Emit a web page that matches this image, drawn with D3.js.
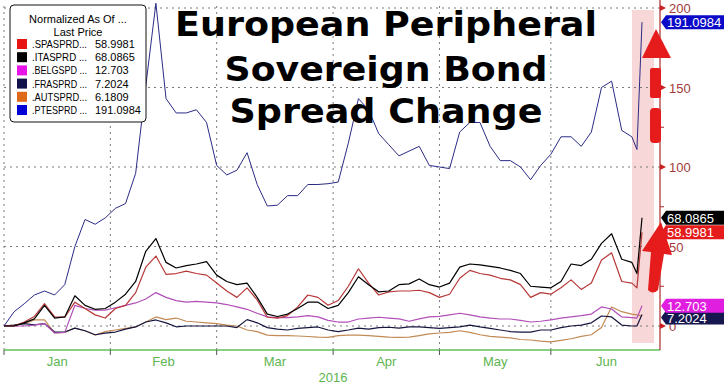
<!DOCTYPE html>
<html>
<head>
<meta charset="utf-8">
<script src="https://cdn.jsdelivr.net/npm/d3@7"></script>
<style>
  body { margin: 0; background: #fff; }
  svg { display: block; }
</style>
</head>
<body>
<script>
// trading day index (weekdays from 1 Jan 2016)
var days = [0,2,4,6,8,10,12,14,16,18,20,22,24,26,28,30,32,34,36,38,40,42,44,46,48,50,52,54,56,58,60,
  62,64,66,68,70,72,74,76,78,80,82,84,86,88,90,92,94,96,98,100,102,104,106,108,110,112,114,116,118,120,122,124,125,126];

var spa = [0,0,2.5,6,14,5.7,5.5,15,11,7,5,11,13,21,37,44,32.5,33,34.5,33,32,27,22,18,24,16.4,5.5,5,6.5,12,19.5,
  18,13,16,25,36,27,19.5,21.5,22,22,22.5,21,18,20,30,35,33,32,30,29,26,18,21,20,24,29,23,27,41.5,46,28,27,24,58.9981];
var ita = [0,0,2,4.5,13,5,5.7,19,13,10.5,11,15,20,28,47,55,40,36.5,38,39,40.5,32,28,26,27,18,7.5,6,7.5,11,15,
  15,11,13,21,31,26,21.5,22,26,26.5,29.6,26,24.5,27,37,39,38.4,37.5,36.5,35,33,25,24.5,24,28,39,38,42,52,58,42,40,33,68.0865];
var belg = [0,0,0,0.5,1.5,-4.4,-4,13,11,10,10,11.5,13,14.5,17,21,18,16,15,15.5,15,14.5,13.5,12,10.5,8,5.7,5.3,5.3,5.7,6.5,
  5.7,3.5,2.5,2.5,4.4,5,5.5,5,4.5,3,4.5,5.7,6,7,8,7,5.7,5,4.4,4.4,3.5,2.5,3,3.8,5,5.7,6.5,7.5,12,10.7,5.7,5.3,5,12.703];
var fra = [0,0.5,1.5,0.8,1.5,-3.8,-3.8,-1.3,-3,-5.5,-4.5,-3.8,-2,-0.6,2.5,3.8,2,-0.5,0,0,0,0,0,-1,4,2,-1,-2,-2.5,-1.5,-1,
  -0.6,-2.5,-3.5,-2.5,-1.3,-2,-1,-0.8,-1.3,-0.6,-0.6,-1,-1.5,-1,-0.6,0.6,-0.6,-1.5,-2.5,-3.5,-3.8,-3.8,-2.5,-2.5,-1,0,0.5,2,6.3,5.7,0.6,0,0,7.2024];
var aut = [0,0.5,1.5,3.8,3.8,-4.4,-4,-1.3,-3,-5.7,-3.5,-2.5,-1.5,-0.6,2.5,5.7,4,5,3,2.5,2,1.5,0.5,0,-2.5,-3.5,-5.7,-6,-6,-6.3,-6.6,
  -7,-7.2,-6,-5.7,-5.7,-6,-6.5,-7,-7.2,-7,-6,-5,-4.4,-4,-3,-4,-5.5,-6.5,-7,-7.5,-8.5,-8.8,-9.5,-10,-9,-8,-6.5,-5.5,-1,12,9,7.5,7,6.1809];
var pte = [0,9,14,19.5,22,19.5,26,50,67,64,68,74,77,96,151,203,143,134,134,136,128,101,95,98,109,89,75.5,76,82,82,89,
  89,89.5,90.5,115,143,136,121,114,107,110,113,101,100,99,122,128,128,113,104,104,100,92,101,108,119,119,113,122,150,154,123,119,111,191.0984];

var seriesNames = [".SPASPRD...", ".ITASPRD ...", ".BELGSPD ...", ".FRASPRD ...", ".AUTSPRD...", ".PTESPRD ..."];
var lastLabels = ["58.9981", "68.0865", "12.703", "7.2024", "6.1809", "191.0984"];

var months = ["Jan", "Feb", "Mar", "Apr", "May", "Jun"];
var monthStart = [0, 21, 42, 65, 86, 108, 130];
var yTicks = [0, 50, 100, 150, 200];
var yMinor = [25, 75, 125, 175];

var w = 727, h = 385;
var lineColors = ["#b83838", "#000000", "#b24fb8", "#15153f", "#c28a55", "#2b2b86"];
var swatchColors = ["#e81414", "#000000", "#e614e6", "#12124a", "#e0681a", "#0000d6"];
var tagColors = ["#e41c1c", "#000000", "#e01ee0", "#17174f", "#d8681c", "#0a0ac8"];
var font = "Liberation Sans, Arial, sans-serif";

var x = d3.scaleLinear().domain([0, 126]).range([4, 642]);
var y = d3.scaleLinear().domain([0, 200]).range([326, 8]);
var right = 660, bottom = 350;

var svg = d3.select("body").append("svg")
  .attr("width", w)
  .attr("height", h);

// shaded window for the last days
svg.append("rect")
  .attr("x", 632).attr("y", 10)
  .attr("width", 22).attr("height", 333)
  .attr("fill", "#f7d7d7");

// grid
svg.selectAll(".hgrid")
  .data(yTicks)
  .enter().append("line")
    .attr("x1", 4).attr("x2", right)
    .attr("y1", function(d) { return y(d); })
    .attr("y2", function(d) { return y(d); })
    .attr("stroke", "#7a7a7a")
    .attr("stroke-dasharray", "2,4");

svg.selectAll(".vgrid")
  .data(monthStart.slice(0, 6))
  .enter().append("line")
    .attr("x1", function(d) { return x(d); })
    .attr("x2", function(d) { return x(d); })
    .attr("y1", 6).attr("y2", bottom)
    .attr("stroke", "#7a7a7a")
    .attr("stroke-dasharray", "2,4");

// series lines
var all = [spa, ita, belg, fra, aut, pte];
var line = d3.line()
  .x(function(d, i) { return x(days[i]); })
  .y(function(d) { return y(d); });

var drawOrder = [4, 3, 2, 0, 1, 5];
drawOrder.forEach(function(k) {
  svg.append("path")
    .datum(all[k])
    .attr("d", line)
    .attr("fill", "none")
    .attr("stroke", lineColors[k])
    .attr("stroke-width", k == 5 ? 1 : 1.2)
    .attr("stroke-linejoin", "round");
});

// x axis
svg.append("line")
  .attr("x1", 4).attr("x2", right)
  .attr("y1", bottom).attr("y2", bottom)
  .attr("stroke", "#62bf5a").attr("stroke-width", 1.5);

svg.selectAll(".xtick")
  .data(monthStart.slice(0, 6))
  .enter().append("line")
    .attr("x1", function(d) { return x(d); })
    .attr("x2", function(d) { return x(d); })
    .attr("y1", bottom).attr("y2", bottom + 5)
    .attr("stroke", "#555");

svg.selectAll(".mlabel")
  .data(months)
  .enter().append("text")
    .attr("x", function(d, i) { return (x(monthStart[i]) + x(monthStart[i + 1])) / 2; })
    .attr("y", 366)
    .attr("text-anchor", "middle")
    .attr("font-family", font)
    .attr("font-size", 13)
    .attr("fill", "#5cb54f")
    .text(function(d) { return d; });

svg.append("text")
  .attr("x", 333).attr("y", 382)
  .attr("text-anchor", "middle")
  .attr("font-family", font)
  .attr("font-size", 13)
  .attr("fill", "#5cb54f")
  .text("2016");

// right axis
svg.append("line")
  .attr("x1", right).attr("x2", right)
  .attr("y1", 0).attr("y2", bottom)
  .attr("stroke", "#a82a2a").attr("stroke-width", 1.2);

svg.selectAll(".ytri")
  .data(yTicks)
  .enter().append("path")
    .attr("d", function(d) { var t = y(d); return "M" + right + "," + (t - 3) + "L" + (right + 6) + "," + t + "L" + right + "," + (t + 3) + "Z"; })
    .attr("fill", "#cc2020");

svg.selectAll(".yminor")
  .data(yMinor)
  .enter().append("line")
    .attr("x1", right).attr("x2", right + 4)
    .attr("y1", function(d) { return y(d); })
    .attr("y2", function(d) { return y(d); })
    .attr("stroke", "#a82a2a");

svg.selectAll(".ylabel")
  .data(yTicks)
  .enter().append("text")
    .attr("x", 669)
    .attr("y", function(d) { return y(d) + 5; })
    .attr("font-family", font)
    .attr("font-size", 13)
    .attr("fill", "#a33a3a")
    .text(function(d) { return d; });

// red arrows
var red = "#e61b1b";
svg.append("path")
  .attr("d", "M656,29L671,58L642,58Z")
  .attr("fill", red);
svg.append("rect").attr("x", 650).attr("y", 68).attr("width", 11).attr("height", 30).attr("rx", 2).attr("fill", red);
svg.append("rect").attr("x", 650).attr("y", 108).attr("width", 11).attr("height", 35).attr("rx", 4).attr("fill", red);

svg.append("path")
  .attr("d", "M661,222L672,255L664,254L658,290Q653,295 648,290L651,252L642,251Z")
  .attr("fill", red);

// last value tags
[5, 4, 3, 2, 1, 0].forEach(function(k) {
  if (k == 4) return;
  var last = all[k][all[k].length - 1];
  var ty = y(last);
  if (k == 0) ty = y(ita[ita.length - 1]) + 14.5;
  if (k == 3) ty = y(last) + 3;
  var g = svg.append("g");
  g.append("path")
    .attr("d", "M" + (right + 1) + "," + ty + "L" + (right + 6) + "," + (ty - 7) + "L724," + (ty - 7) + "L724," + (ty + 7) + "L" + (right + 6) + "," + (ty + 7) + "Z")
    .attr("fill", tagColors[k]);
  g.append("text")
    .attr("x", 667).attr("y", ty + 5)
    .attr("font-family", font)
    .attr("font-size", 13)
    .attr("fill", "#fff")
    .text(lastLabels[k]);
});

// legend
var lg = svg.append("g");
lg.append("rect")
  .attr("x", 10).attr("y", 5)
  .attr("width", 136).attr("height", 117)
  .attr("rx", 4)
  .attr("fill", "#fff").attr("stroke", "#111");
lg.append("text")
  .attr("x", 78).attr("y", 23)
  .attr("text-anchor", "middle")
  .attr("font-family", font)
  .attr("font-size", 11)
  .text("Normalized As Of ...");
lg.append("text")
  .attr("x", 78).attr("y", 36)
  .attr("text-anchor", "middle")
  .attr("font-family", font)
  .attr("font-size", 11)
  .text("Last Price");

var rows = lg.selectAll(".row")
  .data(seriesNames)
  .enter().append("g")
    .attr("transform", function(d, i) { return "translate(0," + (44 + i * 13.2) + ")"; });
rows.append("rect")
  .attr("x", 17).attr("y", -5)
  .attr("width", 10).attr("height", 10)
  .attr("fill", function(d, i) { return swatchColors[i]; });
rows.append("text")
  .attr("x", 32).attr("y", 4)
  .attr("font-family", font)
  .attr("font-size", 11)
  .attr("textLength", 55)
  .attr("lengthAdjust", "spacingAndGlyphs")
  .text(function(d) { return d; });
rows.append("text")
  .attr("x", 95).attr("y", 4)
  .attr("font-family", font)
  .attr("font-size", 11)
  .text(function(d, i) { return lastLabels[i]; });

// title
var title = ["European Peripheral", "Sovereign Bond", "Spread Change"];
var titleWidth = [422, 323, 313];
svg.selectAll(".title")
  .data(title)
  .enter().append("text")
    .attr("x", 386)
    .attr("y", function(d, i) { return [36, 81, 123][i]; })
    .attr("text-anchor", "middle")
    .attr("font-family", "DejaVu Sans, Verdana, sans-serif")
    .attr("font-weight", "bold")
    .attr("font-size", 34)
    .attr("textLength", function(d, i) { return titleWidth[i]; })
    .attr("lengthAdjust", "spacingAndGlyphs")
    .attr("fill", "#000")
    .text(function(d) { return d; });
</script>
</body>
</html>
